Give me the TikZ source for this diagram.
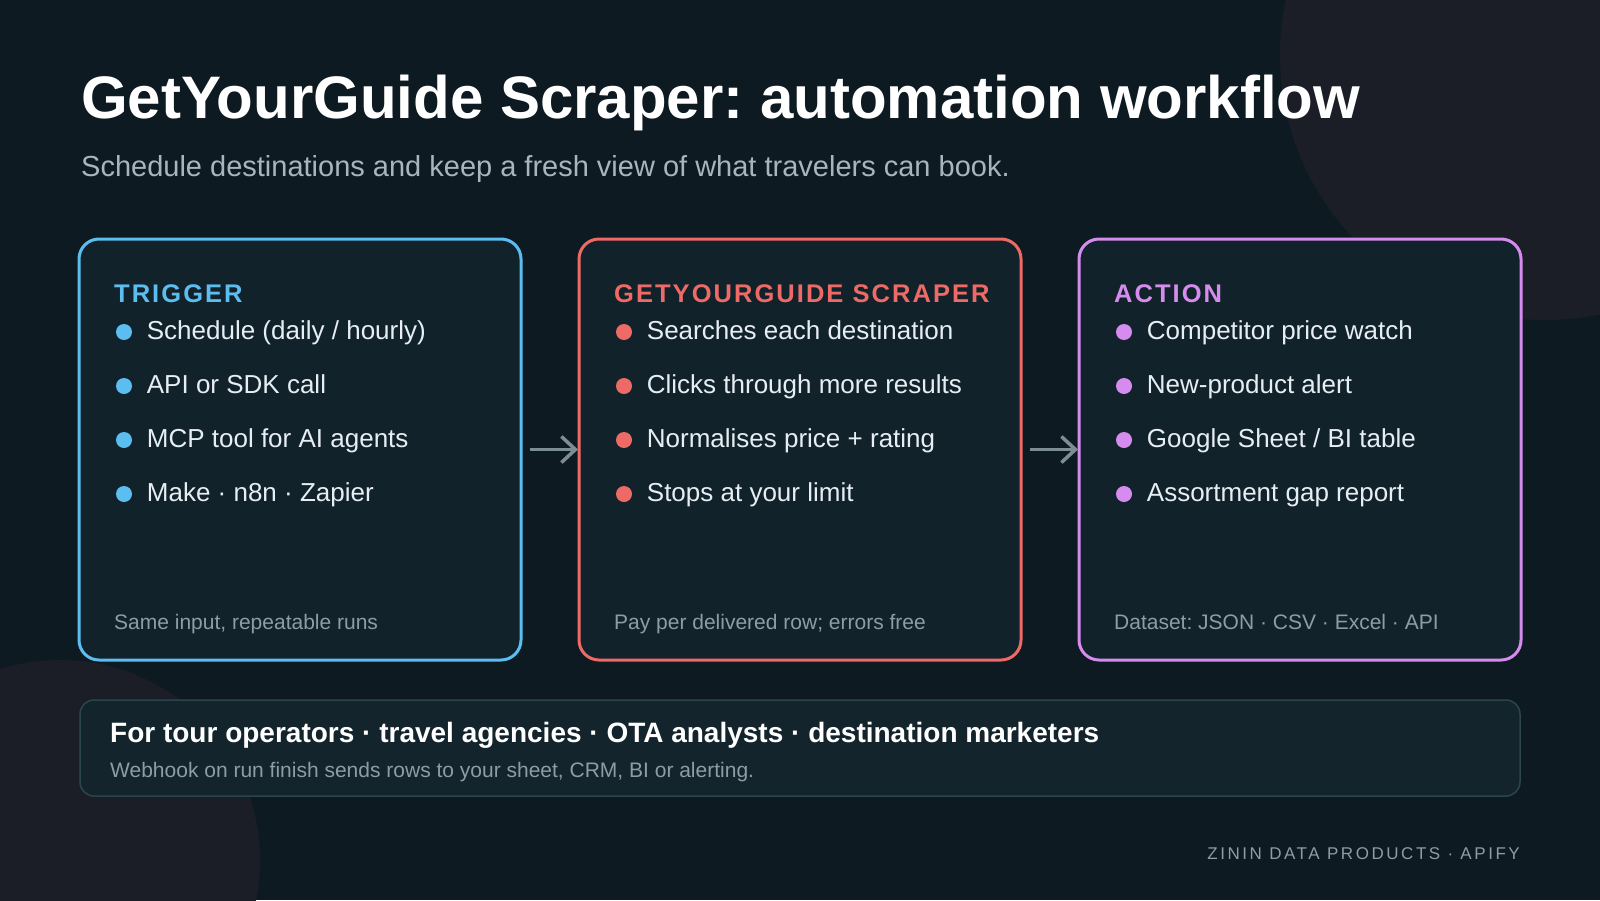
\documentclass[tikz,border=0pt]{standalone}
\usepackage{fontspec}
\setmainfont{Liberation Sans}
\usetikzlibrary{positioning,calc,arrows.meta}
\definecolor{bgdark}{HTML}{0E1A21}
\definecolor{blob}{HTML}{1B1E27}
\definecolor{cardfill}{HTML}{12222B}
\definecolor{trigblue}{HTML}{5BBDF0}
\definecolor{scrapred}{HTML}{EE6A66}
\definecolor{actpurple}{HTML}{D58CEE}
\definecolor{itemtext}{HTML}{E6EEF3}
\definecolor{notegray}{HTML}{8E9CA6}
\definecolor{subgray}{HTML}{A9B5BE}
\definecolor{arrowgray}{HTML}{7D8D95}
\definecolor{bandfill}{HTML}{13242C}
\definecolor{bandline}{HTML}{2B454D}
\frenchspacing

\begin{document}
\begin{tikzpicture}[x=1pt,y=-1pt,
  card/.style={draw=#1,line width=3pt,fill=cardfill,rounded corners=20pt,
    minimum width=442pt,minimum height=421pt,inner sep=0pt,outer sep=0pt},
  head/.style={anchor=base west,inner sep=0pt,text=#1,
    font=\fontsize{25.5}{30}\selectfont\bfseries\addfontfeatures{LetterSpace=8}},
  item/.style={anchor=base west,inner sep=0pt,text=itemtext,font=\fontsize{26}{31}\selectfont},
  note/.style={anchor=base west,inner sep=0pt,text=notegray,font=\fontsize{21}{25}\selectfont},
  dot/.style={circle,fill=#1,minimum size=16pt,inner sep=0pt},
  flow/.style={draw=arrowgray,line width=3.5pt,-{Straight Barb[length=14pt,width=26pt]}}]

% background and soft blobs
\useasboundingbox (0,0) rectangle (1600,900);
\clip (0,0) rectangle (1600,900);
\fill[bgdark] (0,0) rectangle (1600,900);
\fill[blob] (1545,55) circle (265pt);
\fill[blob] (60,860) circle (200pt);

% heading
\node[anchor=base west,inner sep=0pt,text=white,font=\fontsize{60}{70}\selectfont\bfseries] (title) at (81,118)
  {GetYourGuide Scraper: automation workflow};
\node[anchor=base west,inner sep=0pt,text=subgray,font=\fontsize{29}{34}\selectfont] (subtitle) at (81,176)
  {Schedule destinations and keep a fresh view of what travelers can book.};

% the three stages
\node[card=trigblue] (trigger) at (300,449.5) {};
\node[card=scrapred,right=58pt of trigger] (scraper) {};
\node[card=actpurple,right=58pt of scraper] (action) {};

\node[head=trigblue] at ($(trigger.north west)+(35,63)$) {TRIGGER};
\foreach \txt [count=\i] in {Schedule (daily / hourly),API or SDK call,MCP tool for AI agents,Make · n8n · Zapier}{
  \node[dot=trigblue] (t\i) at ($(trigger.north west)+(45,39+54*\i)$) {};
  \node[item] at ($(t\i)+(22.7,7.6)$) {\txt};
}
\node[note] at ($(trigger.north west)+(35,390)$) {Same input, repeatable runs};

\node[head=scrapred] at ($(scraper.north west)+(35,63)$) {GETYOURGUIDE SCRAPER};
\foreach \txt [count=\i] in {Searches each destination,Clicks through more results,Normalises price + rating,Stops at your limit}{
  \node[dot=scrapred] (s\i) at ($(scraper.north west)+(45,39+54*\i)$) {};
  \node[item] at ($(s\i)+(22.7,7.6)$) {\txt};
}
\node[note] at ($(scraper.north west)+(35,390)$) {Pay per delivered row; errors free};

\node[head=actpurple] at ($(action.north west)+(35,63)$) {ACTION};
\foreach \txt [count=\i] in {Competitor price watch,New-product alert,Google Sheet / BI table,Assortment gap report}{
  \node[dot=actpurple] (a\i) at ($(action.north west)+(45,39+54*\i)$) {};
  \node[item] at ($(a\i)+(22.7,7.6)$) {\txt};
}
\node[note] at ($(action.north west)+(35,390)$) {Dataset: JSON · CSV · Excel · API};

\draw[flow,shorten <=9pt,shorten >=1pt] (trigger) -- (scraper);
\draw[flow,shorten <=9pt,shorten >=1pt] (scraper) -- (action);

% audience band
\node[draw=bandline,line width=1.5pt,fill=bandfill,rounded corners=14pt,
  minimum width=1440pt,minimum height=96pt,inner sep=0pt,outer sep=0pt] (audience) at (800,748) {};
\node[anchor=base west,inner sep=0pt,text=white,font=\fontsize{28}{33}\selectfont\bfseries] (who)
  at ($(audience.north west)+(30,42)$)
  {For tour operators · travel agencies · OTA analysts · destination marketers};
\node[anchor=base west,inner sep=0pt,text=notegray,font=\fontsize{21}{25}\selectfont] (hook)
  at ($(audience.north west)+(30,77.5)$)
  {Webhook on run finish sends rows to your sheet, CRM, BI or alerting.};

\node[anchor=base east,inner sep=0pt,text=notegray,
  font=\fontsize{17}{20}\selectfont\addfontfeatures{LetterSpace=15}] (brand) at (1520,859)
  {ZININ DATA PRODUCTS · APIFY};
\end{tikzpicture}
\end{document}
